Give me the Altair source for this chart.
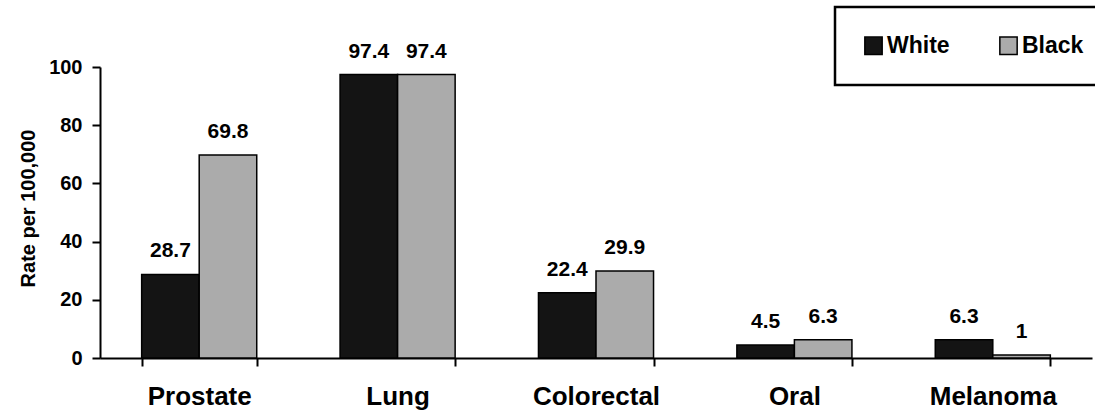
import altair as alt
import pandas as pd

categories = ["Prostate", "Lung", "Colorectal", "Oral", "Melanoma"]
groups = ["White", "Black"]
white_values = [28.7, 97.4, 22.4, 4.5, 6.3]
black_values = [69.8, 97.4, 29.9, 6.3, 1]
y_ticks = [0, 20, 40, 60, 80, 100]

rows = []
for i, c in enumerate(categories):
    for g, vals in zip(groups, [white_values, black_values]):
        v = vals[i]
        rows.append({"category": c, "group": g, "value": v,
                     "label": (str(int(v)) if float(v).is_integer() else str(v))})
df = pd.DataFrame(rows)

FONT = "Liberation Sans"

x_enc = alt.X("category:N", sort=categories,
              scale=alt.Scale(paddingInner=0.42, paddingOuter=0.21),
              axis=alt.Axis(title=None, labelAngle=0, labelFontSize=26, labelFontWeight="bold",
                            labelColor="black", labelFont=FONT, labelPadding=17,
                            tickBand="extent", tickSize=8, tickColor="black", tickWidth=2,
                            domainColor="black", domainWidth=2, labelBaseline="top"))
xoff = alt.XOffset("group:N", sort=groups, scale=alt.Scale(paddingInner=0, paddingOuter=0))
color = alt.Color("group:N", sort=groups,
                  scale=alt.Scale(domain=groups, range=["#141414", "#ababab"]),
                  legend=alt.Legend(title=None, orient="none", legendX=735, legendY=-60,
                                    direction="horizontal", symbolType="square", symbolSize=300,
                                    symbolStrokeColor="black", symbolStrokeWidth=1.5,
                                    labelFontSize=23, labelFontWeight="bold", labelFont=FONT,
                                    labelColor="black", labelOffset=2, columnPadding=46,
                                    padding=27, strokeColor="black"))

bars = alt.Chart(df).mark_bar(stroke="black", strokeWidth=1.5).encode(
    x=x_enc,
    xOffset=xoff,
    y=alt.Y("value:Q", scale=alt.Scale(domain=[0, 100], nice=False),
            axis=alt.Axis(title="Rate per 100,000", values=y_ticks, grid=False,
                          labelFontSize=20, labelFontWeight="bold", labelFont=FONT,
                          labelColor="black", labelPadding=10, tickSize=8, tickColor="black",
                          tickWidth=2, domainColor="black", domainWidth=2,
                          titleFontSize=20, titleFontWeight="bold", titleFont=FONT,
                          titleColor="black", titleX=-72, titleY=141, titleAngle=270,
                          titleAlign="center", titleBaseline="middle")),
    color=color,
)

texts = alt.Chart(df).mark_text(dy=-23, baseline="middle", align="center",
                                fontSize=21, fontWeight="bold", font=FONT, color="black").encode(
    x=alt.X("category:N", sort=categories),
    xOffset=alt.XOffset("group:N", sort=groups),
    y=alt.Y("value:Q"),
    text="label:N",
)

chart = alt.layer(bars, texts).properties(
    width=992, height=291,
    autosize=alt.AutoSizeParams(type="none"),
    padding={"left": 100, "top": 67, "right": 3, "bottom": 55},
    background="white",
).configure_view(stroke=None).configure_legend(strokeWidth=2.5)

chart.save("out.html", embed_options={"renderer": "svg", "actions": False})
